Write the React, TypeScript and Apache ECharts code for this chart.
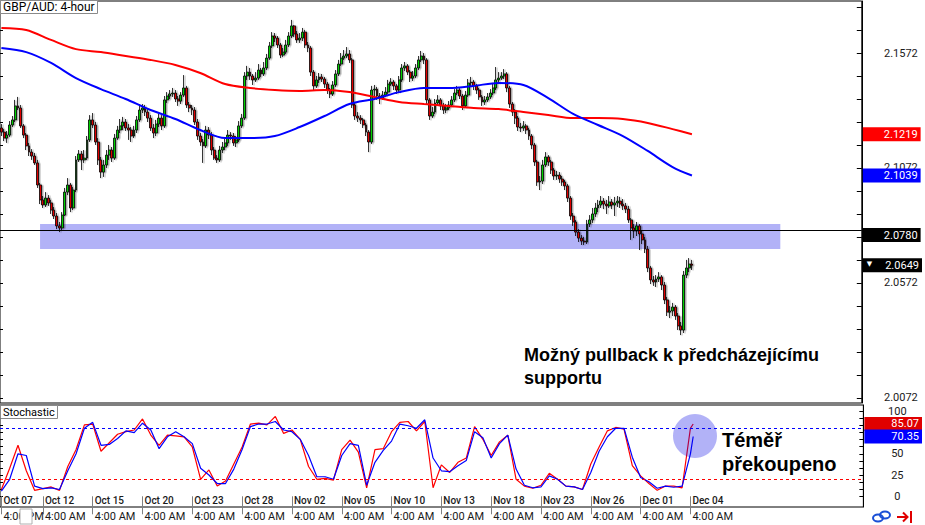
import React, { useEffect, useRef } from 'react';
import * as echarts from 'echarts';

// ---- Price data (GBP/AUD 4-hour), one entry per candle ----
const firstOpen = 2.1246;
const closes = [
  2.1228, 2.1202, 2.1215, 2.1259, 2.1281, 2.1342, 2.1333, 2.1255, 2.1215, 2.1168,
  2.1141, 2.1124, 2.1094, 2.0998, 2.0933, 2.0911, 2.0941, 2.0920, 2.0889, 2.0863,
  2.0820, 2.0811, 2.0867, 2.0967, 2.0998, 2.0898, 2.0976, 2.1107, 2.1133, 2.1107,
  2.1115, 2.1194, 2.1281, 2.1259, 2.1185, 2.1107, 2.1054, 2.1085, 2.1128, 2.1150,
  2.1115, 2.1202, 2.1237, 2.1255, 2.1272, 2.1246, 2.1237, 2.1211, 2.1237, 2.1281,
  2.1324, 2.1333, 2.1315, 2.1289, 2.1246, 2.1224, 2.1263, 2.1289, 2.1255, 2.1368,
  2.1385, 2.1394, 2.1398, 2.1372, 2.1363, 2.1389, 2.1420, 2.1346, 2.1333, 2.1324,
  2.1272, 2.1211, 2.1185, 2.1168, 2.1237, 2.1215, 2.1150, 2.1115, 2.1107, 2.1150,
  2.1163, 2.1181, 2.1215, 2.1211, 2.1181, 2.1194, 2.1255, 2.1289, 2.1472, 2.1489,
  2.1472, 2.1455, 2.1463, 2.1498, 2.1481, 2.1507, 2.1550, 2.1603, 2.1646, 2.1637,
  2.1607, 2.1563, 2.1576, 2.1607, 2.1646, 2.1690, 2.1655, 2.1629, 2.1637, 2.1663,
  2.1607, 2.1594, 2.1489, 2.1429, 2.1455, 2.1468, 2.1459, 2.1437, 2.1411, 2.1394,
  2.1433, 2.1481, 2.1524, 2.1550, 2.1559, 2.1568, 2.1542, 2.1346, 2.1298, 2.1289,
  2.1281, 2.1259, 2.1228, 2.1185, 2.1411, 2.1415, 2.1385, 2.1376, 2.1389, 2.1402,
  2.1437, 2.1446, 2.1429, 2.1411, 2.1455, 2.1507, 2.1516, 2.1489, 2.1463, 2.1472,
  2.1507, 2.1542, 2.1559, 2.1542, 2.1368, 2.1298, 2.1315, 2.1355, 2.1368, 2.1342,
  2.1324, 2.1333, 2.1346, 2.1368, 2.1398, 2.1411, 2.1385, 2.1342, 2.1389, 2.1442,
  2.1446, 2.1429, 2.1411, 2.1381, 2.1359, 2.1368, 2.1381, 2.1398, 2.1420, 2.1455,
  2.1463, 2.1472, 2.1481, 2.1420, 2.1350, 2.1315, 2.1289, 2.1250, 2.1246, 2.1255,
  2.1237, 2.1211, 2.1172, 2.1098, 2.1011, 2.1015, 2.1085, 2.1120, 2.1098, 2.1063,
  2.1037, 2.1041, 2.1024, 2.1011, 2.0994, 2.0941, 2.0863, 2.0837, 2.0793, 2.0767,
  2.0754, 2.0750, 2.0828, 2.0846, 2.0872, 2.0898, 2.0911, 2.0928, 2.0915, 2.0907,
  2.0924, 2.0911, 2.0920, 2.0928, 2.0915, 2.0907, 2.0893, 2.0846, 2.0811, 2.0798,
  2.0820, 2.0785, 2.0759, 2.0719, 2.0637, 2.0585, 2.0576, 2.0589, 2.0598, 2.0563,
  2.0498, 2.0445, 2.0450, 2.0467, 2.0428, 2.0385, 2.0367, 2.0606, 2.0637, 2.0654, 2.0649,
];
const highs = [
  2.1263, 2.1241, 2.1233, 2.1276, 2.1298, 2.1368, 2.1381, 2.1346, 2.1263, 2.1224,
  2.1181, 2.1154, 2.1137, 2.1107, 2.1007, 2.0950, 2.0967, 2.0954, 2.0933, 2.0902,
  2.0876, 2.0837, 2.0880, 2.0985, 2.1028, 2.1007, 2.0989, 2.1124, 2.1150, 2.1146,
  2.1150, 2.1211, 2.1302, 2.1311, 2.1272, 2.1202, 2.1120, 2.1107, 2.1150, 2.1172,
  2.1163, 2.1220, 2.1255, 2.1285, 2.1294, 2.1285, 2.1263, 2.1250, 2.1255, 2.1298,
  2.1350, 2.1350, 2.1346, 2.1328, 2.1302, 2.1263, 2.1281, 2.1307, 2.1302, 2.1385,
  2.1402, 2.1411, 2.1420, 2.1411, 2.1385, 2.1402, 2.1476, 2.1429, 2.1359, 2.1346,
  2.1337, 2.1285, 2.1224, 2.1198, 2.1255, 2.1250, 2.1228, 2.1163, 2.1128, 2.1168,
  2.1185, 2.1198, 2.1237, 2.1228, 2.1224, 2.1211, 2.1276, 2.1307, 2.1489, 2.1516,
  2.1507, 2.1481, 2.1489, 2.1524, 2.1507, 2.1533, 2.1568, 2.1620, 2.1663, 2.1659,
  2.1646, 2.1616, 2.1594, 2.1629, 2.1663, 2.1716, 2.1694, 2.1668, 2.1659, 2.1681,
  2.1672, 2.1620, 2.1603, 2.1498, 2.1472, 2.1485, 2.1481, 2.1468, 2.1446, 2.1420,
  2.1450, 2.1498, 2.1542, 2.1572, 2.1585, 2.1598, 2.1585, 2.1550, 2.1359, 2.1315,
  2.1302, 2.1289, 2.1268, 2.1237, 2.1429, 2.1433, 2.1424, 2.1398, 2.1407, 2.1424,
  2.1455, 2.1463, 2.1455, 2.1437, 2.1472, 2.1524, 2.1533, 2.1524, 2.1498, 2.1494,
  2.1524, 2.1559, 2.1581, 2.1572, 2.1550, 2.1376, 2.1337, 2.1372, 2.1389, 2.1376,
  2.1355, 2.1350, 2.1363, 2.1385, 2.1415, 2.1429, 2.1420, 2.1394, 2.1407, 2.1459,
  2.1468, 2.1455, 2.1437, 2.1420, 2.1389, 2.1385, 2.1398, 2.1415, 2.1442, 2.1511,
  2.1489, 2.1489, 2.1502, 2.1489, 2.1429, 2.1359, 2.1328, 2.1298, 2.1268, 2.1276,
  2.1263, 2.1246, 2.1220, 2.1181, 2.1107, 2.1037, 2.1107, 2.1141, 2.1128, 2.1107,
  2.1072, 2.1059, 2.1054, 2.1037, 2.1020, 2.1002, 2.0950, 2.0876, 2.0846, 2.0806,
  2.0780, 2.0772, 2.0846, 2.0867, 2.0898, 2.0920, 2.0933, 2.0950, 2.0941, 2.0933,
  2.0950, 2.0937, 2.0946, 2.0950, 2.0946, 2.0937, 2.0920, 2.0907, 2.0854, 2.0828,
  2.0837, 2.0828, 2.0802, 2.0772, 2.0733, 2.0646, 2.0602, 2.0606, 2.0619, 2.0606,
  2.0576, 2.0511, 2.0472, 2.0485, 2.0476, 2.0441, 2.0402, 2.0624, 2.0672, 2.0680, 2.0672,
];
const lows = [
  2.1211, 2.1189, 2.1181, 2.1207, 2.1250, 2.1272, 2.1324, 2.1246, 2.1202, 2.1150,
  2.1124, 2.1107, 2.1085, 2.0985, 2.0915, 2.0898, 2.0902, 2.0907, 2.0872, 2.0850,
  2.0806, 2.0793, 2.0802, 2.0863, 2.0954, 2.0880, 2.0889, 2.0967, 2.1098, 2.1063,
  2.1094, 2.1107, 2.1185, 2.1246, 2.1172, 2.1085, 2.1028, 2.1033, 2.1072, 2.1107,
  2.1098, 2.1107, 2.1194, 2.1224, 2.1237, 2.1233, 2.1194, 2.1185, 2.1202, 2.1224,
  2.1272, 2.1311, 2.1298, 2.1272, 2.1233, 2.1202, 2.1211, 2.1250, 2.1237, 2.1246,
  2.1355, 2.1372, 2.1381, 2.1359, 2.1342, 2.1350, 2.1381, 2.1333, 2.1315, 2.1302,
  2.1259, 2.1194, 2.1168, 2.1094, 2.1159, 2.1198, 2.1128, 2.1107, 2.1094, 2.1098,
  2.1137, 2.1150, 2.1168, 2.1194, 2.1168, 2.1163, 2.1185, 2.1246, 2.1281, 2.1455,
  2.1455, 2.1433, 2.1446, 2.1455, 2.1468, 2.1472, 2.1498, 2.1542, 2.1594, 2.1620,
  2.1594, 2.1550, 2.1555, 2.1568, 2.1598, 2.1637, 2.1642, 2.1616, 2.1616, 2.1624,
  2.1594, 2.1576, 2.1472, 2.1411, 2.1420, 2.1442, 2.1446, 2.1420, 2.1394, 2.1376,
  2.1385, 2.1424, 2.1472, 2.1516, 2.1542, 2.1550, 2.1529, 2.1333, 2.1281, 2.1272,
  2.1263, 2.1246, 2.1211, 2.1141, 2.1176, 2.1385, 2.1368, 2.1350, 2.1368, 2.1381,
  2.1394, 2.1429, 2.1411, 2.1394, 2.1398, 2.1446, 2.1494, 2.1476, 2.1446, 2.1450,
  2.1463, 2.1498, 2.1533, 2.1524, 2.1350, 2.1281, 2.1289, 2.1307, 2.1342, 2.1324,
  2.1307, 2.1311, 2.1324, 2.1337, 2.1359, 2.1389, 2.1372, 2.1324, 2.1333, 2.1381,
  2.1429, 2.1411, 2.1394, 2.1368, 2.1342, 2.1346, 2.1359, 2.1372, 2.1389, 2.1411,
  2.1437, 2.1455, 2.1459, 2.1402, 2.1333, 2.1298, 2.1263, 2.1233, 2.1228, 2.1233,
  2.1220, 2.1194, 2.1154, 2.1081, 2.0994, 2.0976, 2.1002, 2.1076, 2.1081, 2.1046,
  2.1020, 2.1020, 2.1007, 2.0994, 2.0976, 2.0924, 2.0846, 2.0820, 2.0776, 2.0750,
  2.0737, 2.0737, 2.0741, 2.0815, 2.0833, 2.0859, 2.0880, 2.0898, 2.0893, 2.0872,
  2.0898, 2.0893, 2.0863, 2.0902, 2.0898, 2.0889, 2.0876, 2.0833, 2.0759, 2.0767,
  2.0776, 2.0715, 2.0741, 2.0702, 2.0619, 2.0567, 2.0559, 2.0554, 2.0576, 2.0541,
  2.0480, 2.0428, 2.0419, 2.0428, 2.0411, 2.0367, 2.0345, 2.0354, 2.0593, 2.0619, 2.0628,
];

// Moving averages, read every 9 candles (last value = latest candle)
const redMA = [
  2.1681, 2.1672, 2.1629, 2.1589, 2.1576, 2.1559, 2.1542, 2.1520, 2.1485, 2.1437,
  2.1420, 2.1411, 2.1407, 2.1411, 2.1402, 2.1381, 2.1359, 2.1350, 2.1342, 2.1333,
  2.1328, 2.1315, 2.1302, 2.1289, 2.1289, 2.1285, 2.1268, 2.1241, 2.1219,
];
const blueMA = [
  2.1594, 2.1576, 2.1529, 2.1463, 2.1415, 2.1372, 2.1324, 2.1285, 2.1237, 2.1202,
  2.1202, 2.1211, 2.1250, 2.1298, 2.1350, 2.1372, 2.1402, 2.1420, 2.1420, 2.1429,
  2.1442, 2.1433, 2.1376, 2.1307, 2.1259, 2.1211, 2.1146, 2.1076, 2.1039,
];
const maStep = 9;

// Stochastic, read every 3 candles (last value = latest candle)
const stochMain = [
  8, 33, 60, 30, 7, 9, 11, 7, 35, 55,
  84, 85, 53, 63, 73, 76, 78, 91, 72, 60,
  72, 71, 70, 58, 20, 31, 12, 18, 38, 58,
  85, 86, 84, 94, 74, 78, 67, 35, 20, 21,
  19, 55, 66, 52, 10, 55, 56, 76, 87, 88,
  77, 88, 10, 37, 28, 40, 45, 82, 67, 48,
  64, 72, 20, 12, 9.5, 13, 27, 20, 12, 11,
  8, 38, 58, 77, 81, 79, 36, 24, 15, 7,
  12, 12, 10, 80, 85.07,
];
const stochSignal = [
  6, 20, 50, 48, 12, 9, 10, 8, 30, 50,
  80, 87, 60, 61, 68, 77, 75, 86, 78, 56,
  70, 76, 70, 62, 33, 25, 15, 15, 32, 55,
  82, 85, 85, 88, 78, 76, 67, 48, 23, 23,
  20, 48, 62, 60, 13, 40, 54, 65, 85, 83,
  80, 90, 45, 30, 29, 36, 42, 76, 69, 45,
  62, 72, 32, 13, 10, 11, 24, 20, 12, 11,
  8, 28, 53, 70, 80, 80, 46, 22, 17, 9.5,
  12, 10.6, 12, 50, 70.35,
];
const stochStep = 3;

// Axis labels
const priceLabels = [2.0072, 2.0572, 2.1072, 2.1572];
const stochLabels = [0, 25, 50, 100];
const dateLabels = ['Oct 07', 'Oct 12', 'Oct 15', 'Oct 20', 'Oct 23', 'Oct 28', 'Nov 02', 'Nov 05', 'Nov 10', 'Nov 13', 'Nov 18', 'Nov 23', 'Nov 26', 'Dec 01', 'Dec 04'];
const timeLabels = ['4:00 PM', '4:00 AM', '4:00 AM', '4:00 AM', '4:00 AM', '4:00 AM', '4:00 AM', '4:00 AM', '4:00 AM', '4:00 AM', '4:00 AM', '4:00 AM', '4:00 AM', '4:00 AM', '4:00 AM'];
const dateIdx = [0, 15, 33, 51, 69, 87, 105, 123, 141, 159, 177, 195, 213, 231, 249];

// Support zone
const supportLine = 2.078;
const supportTop = 2.0828;
const supportBottom = 2.0719;
const bandFromCandle = 14;
const bandToCandle = 282;

const stochHigh = 80;
const stochLow = 20;

export default function App() {
  const ref = useRef<HTMLDivElement>(null);

  useEffect(() => {
    if (!ref.current) return;
    const chart = echarts.init(ref.current, undefined, { renderer: 'svg' });

    const N = closes.length;
    const TOTAL = 312;
    const cats = Array.from({ length: TOTAL }, (_, i) => String(i));
    const candles = closes.map((c, i) => {
      const o = i === 0 ? firstOpen : closes[i - 1];
      const h = Math.max(highs[i], o, c);
      const l = Math.min(lows[i], o, c);
      return [o, c, l, h];
    });
    const spread = (arr: number[], step: number) => {
      const out: (number | null)[] = new Array(N).fill(null);
      arr.forEach((v, k) => {
        const idx = k === arr.length - 1 ? N - 1 : k * step;
        out[idx] = v;
      });
      return out;
    };

    const PMIN = 2.00496;
    const PMAX = 2.17983;
    const SMIN = -12.6;
    const SMAX = 107.4;
    const FONT = 'Roboto';
    const LBL = '#1a1a1a';

    const priceTicks: number[] = [];
    for (let k = 0; k <= 17; k++) priceTicks.push(Math.round((2.0072 + 0.01 * k) * 10000) / 10000);
    const stochTicks: number[] = [];
    for (let k = 0; k <= 12; k++) stochTicks.push((100 * k) / 12);

    const isDate = (i: number) => dateIdx.indexOf(i) >= 0;

    const boxAxis = (gridIndex: number, min: number, max: number, value: number, bg: string, text: string, padLeft: number, rich?: any) => ({
      type: 'value', gridIndex, position: 'right', min, max,
      axisLine: { show: false }, axisTick: { show: false }, splitLine: { show: false },
      axisLabel: {
        customValues: [value],
        formatter: () => text,
        color: '#fff', backgroundColor: bg,
        padding: [1, 3, 1, padLeft], margin: 1, align: 'left',
        fontFamily: FONT, fontSize: 11, lineHeight: 12,
        rich,
      },
    });

    const lastClose = closes[N - 1];
    const lastRed = redMA[redMA.length - 1];
    const lastBlue = blueMA[blueMA.length - 1];
    const lastK = stochMain[stochMain.length - 1];
    const lastD = stochSignal[stochSignal.length - 1];

    const option: any = {
      animation: false,
      backgroundColor: '#fff',
      title: [
        {
          text: 'GBP/AUD: 4-hour', left: 0, top: 0, padding: [1, 3, 1, 3],
          borderColor: '#8a8a8a', borderWidth: 1, backgroundColor: '#fff',
          textStyle: { fontFamily: FONT, fontSize: 12, fontWeight: 'normal', color: '#000', lineHeight: 12 },
        },
        {
          text: 'Stochastic', left: 0, top: 405, padding: [1, 3, 1, 3],
          borderColor: '#8a8a8a', borderWidth: 1, backgroundColor: '#fff',
          textStyle: { fontFamily: FONT, fontSize: 11, fontWeight: 'normal', color: '#000', lineHeight: 12 },
        },
      ],
      grid: [
        { left: 0, top: 1, width: 866, height: 402, show: true, borderColor: '#000', borderWidth: 1 },
        { left: 0, top: 405, width: 866, height: 102, show: true, borderColor: '#000', borderWidth: 1 },
      ],
      xAxis: [
        {
          type: 'category', gridIndex: 0, data: cats,
          axisLine: { show: false }, axisTick: { show: false }, axisLabel: { show: false }, splitLine: { show: false },
        },
        {
          type: 'category', gridIndex: 1, data: cats, position: 'bottom',
          axisLine: { show: false }, axisTick: { show: false }, splitLine: { show: false },
          axisLabel: {
            inside: true, interval: (i: number) => isDate(i),
            formatter: (_v: string, i: number) => dateLabels[dateIdx.indexOf(i)] ?? '',
            align: 'left', margin: 2, padding: [0, 0, 0, 2],
            fontFamily: FONT, fontSize: 10, fontWeight: 500, color: LBL,
          },
        },
        {
          type: 'category', gridIndex: 1, data: cats, position: 'bottom',
          axisLine: { show: false }, splitLine: { show: false },
          axisTick: { show: true, interval: (i: number) => isDate(i), alignWithLabel: true, length: 18, lineStyle: { color: '#808080', width: 1 } },
          axisLabel: {
            interval: (i: number) => isDate(i),
            formatter: (_v: string, i: number) => timeLabels[dateIdx.indexOf(i)] ?? '',
            align: 'left', margin: 4, padding: [0, 0, 0, 2],
            fontFamily: FONT, fontSize: 11, color: LBL,
          },
        },
      ],
      yAxis: [
        {
          type: 'value', gridIndex: 0, position: 'right', min: PMIN, max: PMAX,
          axisLine: { show: true, lineStyle: { color: '#000' } },
          axisTick: { show: true, inside: true, length: 5, customValues: priceTicks, lineStyle: { color: '#000' } },
          axisLabel: { customValues: priceLabels, formatter: (v: number) => v.toFixed(4), align: 'right', margin: 56, fontFamily: FONT, fontSize: 11, color: LBL },
          splitLine: { show: false },
        },
        {
          type: 'value', gridIndex: 0, position: 'left', min: PMIN, max: PMAX,
          axisLine: { show: false },
          axisTick: { show: true, inside: true, length: 3, customValues: priceTicks, lineStyle: { color: '#000' } },
          axisLabel: { show: false }, splitLine: { show: false },
        },
        boxAxis(0, PMIN, PMAX, lastRed, '#ff0000', lastRed.toFixed(4), 21),
        boxAxis(0, PMIN, PMAX, lastBlue, '#0000ff', lastBlue.toFixed(4), 21),
        boxAxis(0, PMIN, PMAX, supportLine, '#000', supportLine.toFixed(4), 21),
        boxAxis(0, PMIN, PMAX, lastClose, '#000', '{t|▼}{v|' + lastClose.toFixed(4) + '}', 4, {
          t: { fontSize: 7, color: '#fff', padding: [0, 13, 3, 0], fontFamily: 'DejaVu Sans' },
          v: { fontSize: 11, color: '#fff', fontFamily: FONT },
        }),
        {
          type: 'value', gridIndex: 1, position: 'right', min: SMIN, max: SMAX,
          axisLine: { show: true, lineStyle: { color: '#000' } },
          axisTick: { show: true, inside: true, length: 4, customValues: stochTicks, lineStyle: { color: '#000' } },
          axisLabel: { customValues: stochLabels, align: 'center', margin: 34, fontFamily: FONT, fontSize: 11, color: LBL },
          splitLine: { show: false },
        },
        boxAxis(1, SMIN, SMAX, lastK, '#e00000', lastK.toFixed(2), 27),
        boxAxis(1, SMIN, SMAX, lastD, '#0000ff', lastD.toFixed(2), 27),
        {
          type: 'value', gridIndex: 1, position: 'left', min: SMIN, max: SMAX,
          axisLine: { show: false },
          axisTick: { show: true, inside: true, length: 3, customValues: stochTicks, lineStyle: { color: '#000' } },
          axisLabel: { show: false }, splitLine: { show: false },
        },
      ],
      series: [
        {
          type: 'candlestick', name: 'GBP/AUD', xAxisIndex: 0, yAxisIndex: 0,
          data: candles, barWidth: 2.4,
          itemStyle: {
            color: '#00d000', color0: '#e00000', borderColor: '#000', borderColor0: '#000', borderWidth: 0.8,
            shadowColor: 'rgba(0,0,0,0.35)', shadowOffsetX: 1.5, shadowOffsetY: 0.5, shadowBlur: 0,
          },
          markLine: {
            silent: true, symbol: 'none', label: { show: false },
            lineStyle: { color: '#000', width: 1, type: 'solid' },
            data: [{ yAxis: supportLine }],
          },
        },
        {
          type: 'line', name: 'MA red', xAxisIndex: 0, yAxisIndex: 0, data: spread(redMA, maStep),
          connectNulls: true, smooth: 0.3, showSymbol: false, symbol: 'none',
          lineStyle: { color: '#ff0000', width: 2 }, z: 3,
        },
        {
          type: 'line', name: 'MA blue', xAxisIndex: 0, yAxisIndex: 0, data: spread(blueMA, maStep),
          connectNulls: true, smooth: 0.3, showSymbol: false, symbol: 'none',
          lineStyle: { color: '#0000ff', width: 2 }, z: 3,
        },
        {
          type: 'line', name: 'zone', xAxisIndex: 0, yAxisIndex: 0, data: [], z: 6,
          markArea: {
            silent: true, itemStyle: { color: 'rgba(0,0,230,0.3)' },
            data: [[{ xAxis: bandFromCandle, yAxis: supportTop }, { xAxis: bandToCandle, yAxis: supportBottom }]],
          },
        },
        {
          type: 'line', name: '%K', xAxisIndex: 1, yAxisIndex: 6, data: spread(stochMain, stochStep),
          connectNulls: true, showSymbol: false, symbol: 'none',
          lineStyle: { color: '#ff0000', width: 1.2 },
          markLine: {
            silent: true, symbol: 'none', label: { show: false },
            lineStyle: { color: '#ff0000', width: 1, type: [3, 3] },
            data: [{ yAxis: stochLow }],
          },
        },
        {
          type: 'line', name: '%D', xAxisIndex: 1, yAxisIndex: 6, data: spread(stochSignal, stochStep),
          connectNulls: true, showSymbol: false, symbol: 'none',
          lineStyle: { color: '#0000ff', width: 1.2 },
          markLine: {
            silent: true, symbol: 'none', label: { show: false },
            lineStyle: { color: '#0000ff', width: 1, type: [3, 3] },
            data: [{ yAxis: stochHigh }],
          },
        },
      ],
      graphic: [
        { type: 'circle', z: 100, silent: true, shape: { cx: 695, cy: 436, r: 22 }, style: { fill: 'rgba(0,0,230,0.3)' } },
        {
          type: 'text', z: 100, x: 524, y: 343,
          style: { text: 'Možný pullback k předcházejícímu\nsupportu', fontFamily: 'Liberation Sans', fontWeight: 'bold', fontSize: 18, lineHeight: 23, fill: '#000' },
        },
        {
          type: 'text', z: 100, x: 722, y: 428,
          style: { text: 'Téměř\npřekoupeno', fontFamily: 'Liberation Sans', fontWeight: 'bold', fontSize: 20, lineHeight: 24, fill: '#000' },
        },
        { type: 'rect', z: 100, shape: { x: 20, y: 509, width: 12, height: 15 }, style: { fill: '#fff', stroke: '#b0b0b0', lineWidth: 1 } },
        { type: 'ellipse', z: 100, shape: { cx: 878, cy: 518, rx: 5, ry: 3.5 }, style: { fill: 'none', stroke: '#1a4fd6', lineWidth: 2 } },
        { type: 'ellipse', z: 100, shape: { cx: 885, cy: 515, rx: 5, ry: 3.5 }, style: { fill: 'none', stroke: '#1a4fd6', lineWidth: 2 } },
        { type: 'line', z: 100, shape: { x1: 897, y1: 517, x2: 908, y2: 517 }, style: { stroke: '#e00000', lineWidth: 2 } },
        { type: 'polyline', z: 100, shape: { points: [[903, 512.5], [907.5, 517], [903, 521.5]] }, style: { fill: 'none', stroke: '#e00000', lineWidth: 2 } },
        { type: 'line', z: 100, shape: { x1: 911, y1: 511, x2: 911, y2: 523 }, style: { stroke: '#e00000', lineWidth: 2 } },
      ],
    };

    chart.setOption(option);
    return () => chart.dispose();
  }, []);

  return (
    <div
      ref={ref}
      style={{ position: 'fixed', left: 0, top: 0, width: 925, height: 525, background: '#fff' }}
    />
  );
}
